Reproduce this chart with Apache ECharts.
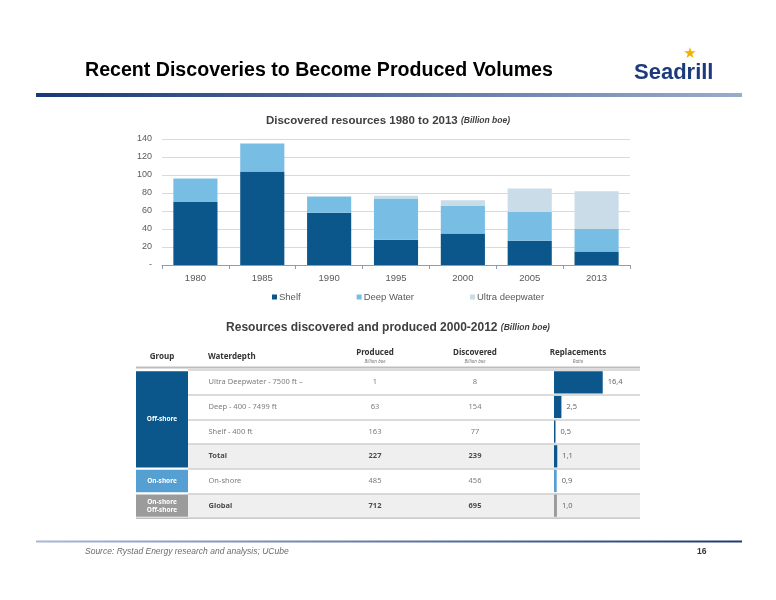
<!DOCTYPE html>
<html><head><meta charset="utf-8">
<script src="https://cdn.jsdelivr.net/npm/echarts@6/dist/echarts.min.js"></script>
<style>html,body{margin:0;padding:0;background:#fff}#c{width:776px;height:600px}</style>
</head><body><div id="c"></div>
<script>
// ---- bar chart data ----
const years = ['1980','1985','1990','1995','2000','2005','2013'];
const shelf = [70,104,58,28,35,27,15];
const deepWater = [26,31,18,46,31,32,25];
const ultraDeep = [0,0,0,3,6,26,42];
const yMax = 140, yStep = 20;
const legendNames = ['Shelf','Deep Water','Ultra deepwater'];

// ---- table data ----
const waterdepth = ['Ultra Deepwater - 7500 ft \u2013','Deep - 400 - 7499 ft','Shelf - 400 ft','Total','On-shore','Global'];
const produced = [1,63,163,227,485,712];
const discovered = [8,154,77,239,456,695];
const ratio = [16.4,2.5,0.5,1.1,0.9,1.0];
const boldRows = [3,5];
const groupNames = ['Off-shore','On-shore','On-shore\nOff-shore'];
const groupSpans = [[0,3],[4,4],[5,5]];
const headers = ['Group','Waterdepth','Produced','Discovered','Replacements'];
const subHeaders = ['','','Billion boe','Billion boe','Ratio'];

const cShelf = '#0b568b', cDeep = '#78bee4', cUltra = '#c9dce7';
const groupColors = ['#0b568b','#559fd2','#9b9b9b'];
const ratioColors = ['#0b568b','#0b568b','#0b568b','#0b568b','#559fd2','#9b9b9b'];

const chart = echarts.init(document.getElementById('c'));
const rowIdx = waterdepth.map((_, i) => i);
const tblTop = 370, tblH = 148;
const F = 'Liberation Sans, Arial, sans-serif';
const TF = 'Noto Sans, sans-serif';

function catY(gridIndex) {
  return {type:'category', gridIndex, data: rowIdx.map(String), inverse:true, show:false};
}
function textSeries(name, xi, yi, vals, pos, dist) {
  return {
    type:'scatter', name, xAxisIndex:xi, yAxisIndex:yi, silent:true,
    symbolSize:1, itemStyle:{color:'rgba(0,0,0,0)'},
    data: vals.map((v,i)=>[0,i]),
    label:{show:true, position:pos, distance:dist, fontFamily:TF, fontSize:7.5,
      color: '#5a5a5a',
      formatter: p => boldRows.includes(p.dataIndex) ? '{b|' + vals[p.dataIndex] + '}' : String(vals[p.dataIndex]),
      rich:{b:{fontWeight:'bold', color:'#222', fontFamily:TF, fontSize:7.5}}}
  };
}

const headerX = [162, 208, 375, 475, 578];
const graphic = [
  {type:'rect', shape:{x:36,y:93,width:706,height:4}, style:{fill:new echarts.graphic.LinearGradient(0,0,1,0,[{offset:0,color:'#1a3876'},{offset:1,color:'#9aabcc'}])}},
  {type:'rect', shape:{x:36,y:540.5,width:706,height:2}, style:{fill:new echarts.graphic.LinearGradient(0,0,1,0,[{offset:0,color:'#a9b8d6'},{offset:1,color:'#1d3a74'}])}},
  {type:'text', left:85, top:61, style:{text:'Recent Discoveries to Become Produced Volumes', font:'bold 19.6px ' + F, fill:'#000'}},
  {type:'text', left:634, top:62, style:{text:'Seadrill', font:'bold 22px ' + F, fill:'#1c3a7c'}},
  {type:'text', x:690, y:54, style:{text:'\u2605', font:'15px DejaVu Sans', fill:'#f0b400', align:'center', verticalAlign:'middle'}},
  {type:'text', left:85, top:547, style:{text:'Source: Rystad Energy research and analysis; UCube', font:'italic 8.5px ' + F, fill:'#6d6d6d'}},
  {type:'text', left:697, top:547, style:{text:'16', font:'bold 8.5px ' + F, fill:'#333'}},
  {type:'rect', shape:{x:136,y:366.5,width:504,height:2}, style:{fill:'#bdbdbd'}},
  {type:'rect', shape:{x:136,y:517.5,width:504,height:1.5}, style:{fill:'#bdbdbd'}}
];
headers.forEach((h, i) => {
  graphic.push({type:'text', x:headerX[i], y: subHeaders[i] ? 353 : 357,
    style:{text:h, font:'bold 8px ' + TF, fill:'#333', align: i===1 ? 'left' : 'center', verticalAlign:'middle'}});
  if (subHeaders[i]) graphic.push({type:'text', x:headerX[i], y:362,
    style:{text:subHeaders[i], font:'italic 4.5px ' + TF, fill:'#777', align:'center', verticalAlign:'middle'}});
});

const option = {
  animation:false,
  backgroundColor:'#fff',
  title:[
    {text:'Discovered resources 1980 to 2013 {s|(Billion boe)}', left:'center', top:110,
      textStyle:{fontFamily:F, fontSize:11.5, fontWeight:'bold', color:'#404040',
        rich:{s:{fontFamily:F, fontSize:8.5, fontStyle:'italic', fontWeight:'bold', color:'#404040'}}}},
    {text:'Resources discovered and produced 2000-2012 {s|(Billion boe)}', left:'center', top:317,
      textStyle:{fontFamily:F, fontSize:12, fontWeight:'bold', color:'#404040',
        rich:{s:{fontFamily:F, fontSize:8.5, fontStyle:'italic', color:'#404040'}}}}
  ],
  legend:{data:legendNames, left:267, top:287, icon:'rect', itemWidth:5, itemHeight:5, itemGap:56,
    textStyle:{fontFamily:F, fontSize:9.5, color:'#595959', padding:[0,0,0,-3]}},
  graphic,
  grid:[
    {left:162, right:146, top:139, height:126},
    {left:136, width:52, top:tblTop, height:tblH},
    {left:188, right:136, top:tblTop, height:tblH},
    {left:355, width:40, top:tblTop, height:tblH},
    {left:455, width:40, top:tblTop, height:tblH},
    {left:554, width:59.4, top:tblTop, height:tblH}
  ],
  xAxis:[
    {type:'category', gridIndex:0, data:years,
      axisLine:{lineStyle:{color:'#8f9db3', width:1}},
      axisTick:{show:true, length:4, lineStyle:{color:'#8f9db3'}},
      axisLabel:{fontFamily:F, fontSize:9.5, color:'#595959', margin:8}},
    {type:'value', gridIndex:1, min:0, max:1, show:false},
    {type:'value', gridIndex:2, min:0, max:1, show:false},
    {type:'value', gridIndex:3, min:-1, max:1, show:false},
    {type:'value', gridIndex:4, min:-1, max:1, show:false},
    {type:'value', gridIndex:5, min:0, max:20, show:false}
  ],
  yAxis:[
    {type:'value', gridIndex:0, min:0, max:yMax, interval:yStep,
      axisLine:{show:false}, axisTick:{show:false},
      splitLine:{lineStyle:{color:'#d9d9d9', width:1}},
      axisLabel:{fontFamily:F, fontSize:9, color:'#595959', margin:10,
        formatter: v => v === 0 ? '-' : String(v)}},
    catY(1),
    {type:'category', gridIndex:2, data: rowIdx.map(String), inverse:true,
      axisLine:{show:false}, axisTick:{show:false}, axisLabel:{show:false},
      splitLine:{show:true, interval:0, lineStyle:{color:'#cfcfcf', width:1.5}},
      splitArea:{show:true, interval:0, areaStyle:{color:['#ffffff','#ffffff','#ffffff','#efefef','#ffffff','#efefef']}}},
    catY(3), catY(4), catY(5)
  ],
  series:[
    {type:'bar', name:legendNames[0], stack:'a', data:shelf, barCategoryGap:'34%', itemStyle:{color:cShelf}},
    {type:'bar', name:legendNames[1], stack:'a', data:deepWater, itemStyle:{color:cDeep}},
    {type:'bar', name:legendNames[2], stack:'a', data:ultraDeep, itemStyle:{color:cUltra}},
    {type:'custom', xAxisIndex:1, yAxisIndex:1, silent:true, clip:false,
      data: groupSpans.map((s,i)=>[s[0], s[1], i]),
      encode:{x:-1, y:[0,1]},
      renderItem:(params, api) => {
        const s = api.value(0), e = api.value(1), gi = api.value(2);
        const p0 = api.coord([0, s]);
        const p1 = api.coord([1, e]);
        const h = api.size([0, 1])[1];
        const y0 = p0[1] - h/2 + 1.2, y1 = p1[1] + h/2 - 1.2;
        return {type:'rect', shape:{x:p0[0], y:y0, width:p1[0]-p0[0], height:y1-y0},
          style:{fill:groupColors[gi]},
          textContent:{style:{text:groupNames[gi], fill:'#fff', font:'bold 6.5px ' + TF, align:'center', lineHeight:8}},
          textConfig:{position:'inside'}};
      }},
    textSeries('wd', 2, 2, waterdepth, 'right', 20),
    textSeries('prod', 3, 3, produced, 'inside', 0),
    textSeries('disc', 4, 4, discovered, 'inside', 0),
    {type:'bar', name:'ratio', xAxisIndex:5, yAxisIndex:5, silent:true, barWidth:'90%',
      data: ratio.map((v,i)=>({value:v, itemStyle:{color:ratioColors[i]}})),
      label:{show:true, position:'right', distance:5, fontFamily:TF, fontSize:7.5, color:'#666',
        formatter: p => ratio[p.dataIndex].toFixed(1).replace('.', ',')}}
  ]
};
chart.setOption(option);
</script></body></html>
